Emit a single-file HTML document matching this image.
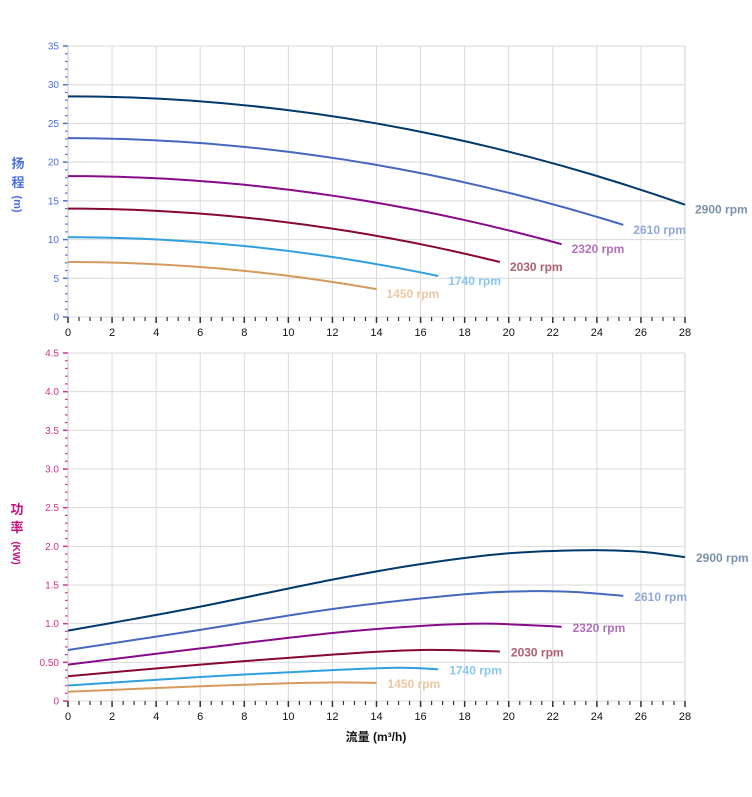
<!DOCTYPE html>
<html><head><meta charset="utf-8"><style>
html,body{margin:0;padding:0;background:#fff;}
svg{display:block;font-family:"Liberation Sans","Noto Sans CJK SC",sans-serif;}
</style></head><body>
<svg id="s" width="752" height="797" xmlns="http://www.w3.org/2000/svg"></svg>
<script>
var s=document.getElementById('s'),o='';
var X0=68,X1=685;function X(q){return X0+q*(X1-X0)/28;}
function HY(h){return 317-h*(271/35);}
function PY(p){return 701-p*(348/4.5);}
// grids
function grid(yt,yb,ny,col,labels,YF,step,minor){
 for(var i=0;i<=14;i++){var x=X(i*2);o+='<line x1="'+x+'" y1="'+yt+'" x2="'+x+'" y2="'+yb+'" stroke="#d9d9d9" stroke-width="1"/>';}
 o+='<line x1="'+X1+'" y1="'+yt+'" x2="'+X1+'" y2="'+yb+'" stroke="#d0d0d0"/>';
 for(var j=0;j<=ny;j++){var y=YF(j*step);o+='<line x1="'+X0+'" y1="'+y+'" x2="'+X1+'" y2="'+y+'" stroke="#d9d9d9"/>';
  o+='<line x1="'+(X0-5)+'" y1="'+y+'" x2="'+X0+'" y2="'+y+'" stroke="'+col+'" stroke-width="1.5"/>';
  o+='<text x="'+(X0-9)+'" y="'+(y+3.5)+'" font-size="10" fill="'+col+'" text-anchor="end">'+labels[j]+'</text>';
  if(j<ny)for(var k=1;k<5;k++){var ym=YF(j*step+k*step/5);o+='<line x1="'+(X0-3)+'" y1="'+ym+'" x2="'+X0+'" y2="'+ym+'" stroke="'+col+'" stroke-width="1.2"/>';}
 }
 o+='<line x1="'+X0+'" y1="'+yt+'" x2="'+X0+'" y2="'+yb+'" stroke="#c8c8c8"/>';
 for(var q=0;q<=28.01;q+=0.5){var x=X(q),maj=Math.abs(q%2)<0.01;o+='<line x1="'+x+'" y1="'+yb+'" x2="'+x+'" y2="'+(yb+(maj?6:4))+'" stroke="#333" stroke-width="'+(maj?1.5:1.2)+'"/>';
  if(maj)o+='<text x="'+x+'" y="'+(yb+19)+'" font-size="11" fill="#111" text-anchor="middle">'+q+'</text>';}
}
grid(46,317,7,'#4a6fe0',['0','5','10','15','20','25','30','35'],HY,5);
grid(353,701,9,'#d63090',['0','0.50','1.0','1.5','2.0','2.5','3.0','3.5','4.0','4.5'],PY,0.5);
// catmull-rom
function path(pts,col){var d='M'+pts[0][0]+','+pts[0][1];
 for(var i=0;i<pts.length-1;i++){var p0=pts[i-1]||pts[i],p1=pts[i],p2=pts[i+1],p3=pts[i+2]||p2;
  d+=' C'+(p1[0]+(p2[0]-p0[0])/6)+','+(p1[1]+(p2[1]-p0[1])/6)+' '+(p2[0]-(p3[0]-p1[0])/6)+','+(p2[1]-(p3[1]-p1[1])/6)+' '+p2[0]+','+p2[1];}
 o+='<path d="'+d+'" fill="none" stroke="'+col+'" stroke-width="2"/>';}
var S=[
 {r:'2900',c:'#003a6b',lc:'#7a93aa',h0:28.5,qe:28,he:14.5,p:[[0,.91],[2,1.01],[6,1.22],[12,1.57],[16,1.77],[20,1.91],[23.5,1.95],[26,1.93],[28,1.86]]},
 {r:'2610',c:'#4468c0',lc:'#8fa8d8',h0:23.1,qe:25.2,he:11.9,p:[[0,.66],[6,.92],[12,1.19],[18,1.38],[21,1.42],[23,1.41],[25.2,1.36]]},
 {r:'2320',c:'#880a8a',lc:'#b070b8',h0:18.2,qe:22.4,he:9.4,p:[[0,.47],[6,.68],[12,.88],[16,.97],[19,1.0],[22.4,.96]]},
 {r:'2030',c:'#88082e',lc:'#b06070',h0:14.0,qe:19.6,he:7.1,p:[[0,.32],[6,.47],[12,.6],[16,.66],[19.6,.64]]},
 {r:'1740',c:'#2ea0e0',lc:'#88c8ee',h0:10.3,qe:16.8,he:5.3,p:[[0,.2],[6,.31],[12,.4],[15,.43],[16.8,.41]]},
 {r:'1450',c:'#d49a5c',lc:'#ecc8a0',h0:7.1,qe:14,he:3.6,p:[[0,.12],[6,.19],[10,.23],[12,.24],[14,.235]]}];
S.forEach(function(a){
 var k=(a.h0-a.he)/(a.qe*a.qe),hp=[];for(var q=0;q<=a.qe+1e-6;q+=a.qe/20)hp.push([X(q),HY(a.h0-k*q*q)]);
 path(hp,a.c);
 var ex=X(a.qe)+10,ey=HY(a.he)+9;
 o+='<text x="'+ex+'" y="'+ey+'" font-size="12" font-weight="bold" fill="'+a.lc+'">'+a.r+' rpm</text>';
 path(a.p.map(function(t){return[X(t[0]),PY(t[1])]}),a.c);
 var l=a.p[a.p.length-1];
 o+='<text x="'+(X(l[0])+11)+'" y="'+(PY(l[1])+5)+'" font-size="12" font-weight="bold" fill="'+a.lc+'">'+a.r+' rpm</text>';
});
// axis titles
o+='<text x="18" y="168" font-size="13" font-weight="bold" fill="#4a6fe0" text-anchor="middle">扬</text>';
o+='<text x="18" y="187" font-size="13" font-weight="bold" fill="#4a6fe0" text-anchor="middle">程</text>';
o+='<text transform="translate(14,204) rotate(90)" font-size="11" font-weight="bold" fill="#4a6fe0" text-anchor="middle">(m)</text>';
o+='<text x="17" y="514" font-size="13" font-weight="bold" fill="#c8107f" text-anchor="middle">功</text>';
o+='<text x="17" y="532" font-size="13" font-weight="bold" fill="#c8107f" text-anchor="middle">率</text>';
o+='<text transform="translate(13,553) rotate(90)" font-size="10" font-weight="bold" fill="#c8107f" text-anchor="middle">(KW)</text>';
o+='<text x="376" y="741" font-size="12" font-weight="bold" fill="#111" text-anchor="middle">流量 (m³/h)</text>';
s.innerHTML=o;
</script>
</body></html>
